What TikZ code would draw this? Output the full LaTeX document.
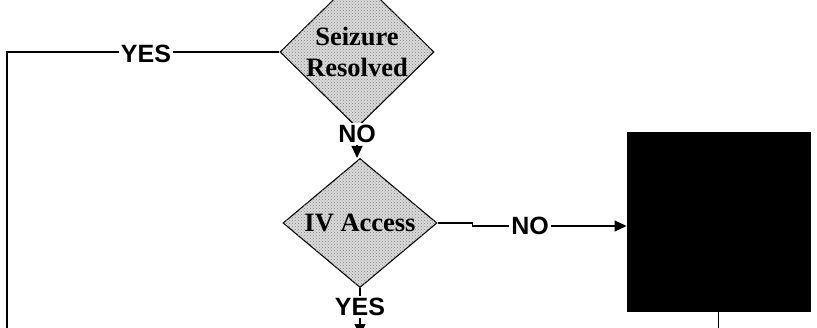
\documentclass[tikz,border=0pt]{standalone}
\usepackage{fontspec}
\setmainfont{Liberation Serif}
\newfontfamily\lblfont{Liberation Sans}
\usetikzlibrary{shapes.geometric,arrows.meta,patterns}

\begin{document}
\begin{tikzpicture}[x=1pt,y=-1pt,
  decision/.style={diamond, draw, line width=1.1pt, fill=black!14,
    postaction={pattern=crosshatch dots, pattern color=black!50},
    minimum width=154pt, minimum height=112pt, inner sep=0pt,
    font=\fontsize{26.5}{31}\selectfont\bfseries, align=center},
  actionbox/.style={draw, fill=black, line width=1pt, inner sep=0pt,
    minimum width=183pt, minimum height=179pt},
  answer/.style={fill=white, inner sep=2pt,
    font=\lblfont\fontsize{25}{25}\selectfont\bfseries},
  flow/.style={line width=1.1pt},
  arrowflow/.style={flow, -{Triangle[length=12pt,width=11pt]}}
]
\useasboundingbox (0,0) rectangle (817,327);

% decisions and action
\node[decision] (seiz) at (357,52) {Seizure\\Resolved};
\node[decision] (iv) at (360,223) {IV Access};
\node[actionbox] (act) at (718.5,221.5) {};

% loose ends leaving the frame
\coordinate (loopdown) at (7,340);
\coordinate (ivout) at (360,336);
\coordinate (actout) at (718.5,340);
\coordinate (actin) at ([yshift=-4.5pt]act.west);

% Seizure resolved: YES runs back to the left
\draw[flow] (seiz.west) -- (7,0 |- seiz.west) -- (loopdown);
\node[answer] (yes1) at (146,54) {YES};

% Seizure resolved: NO leads to IV access check
\draw[arrowflow] (seiz.south) -- (seiz.south |- iv.north);
\node[answer] (no1) at (357,134) {NO};

% IV access: NO leads to the action box
\draw[arrowflow] (iv.east) -- ++(35,0) |- (actin);
\node[answer] (no2) at (530,226) {NO};

% IV access: YES continues down
\draw[arrowflow] (iv.south) -- (ivout);
\node[answer] (yes2) at (360,307) {YES};

% action box continues down
\draw[flow] (act.south) -- (actout);
\end{tikzpicture}
\end{document}
